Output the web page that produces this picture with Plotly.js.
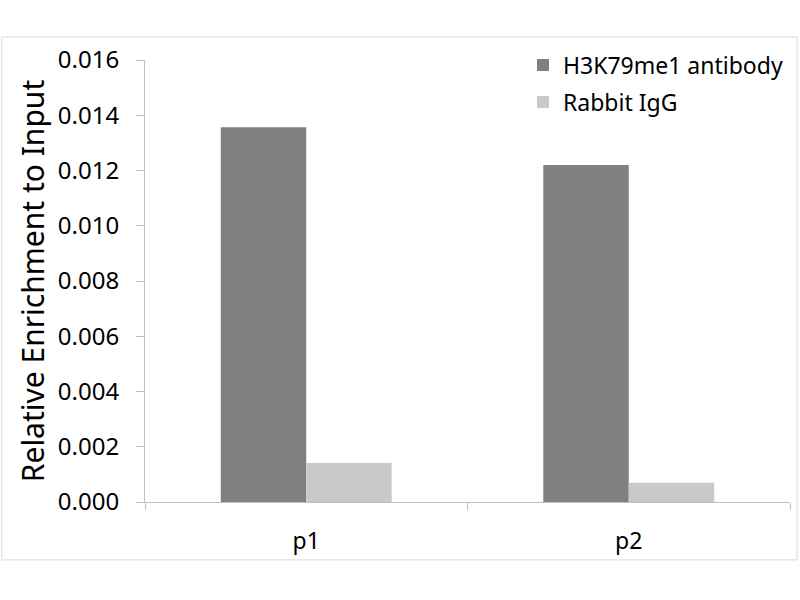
<!DOCTYPE html>
<html>
<head>
<meta charset="utf-8">
<script src="https://cdn.plot.ly/plotly-3.0.1.min.js"></script>
<style>
  body { margin: 0; background: #fff; }
  #chart { width: 800px; height: 600px; }
</style>
</head>
<body>
<div id="chart"></div>
<script>
// values
var sites = ['p1', 'p2']
var antibody = [0.01357, 0.0122]
var igg = [0.00141, 0.0007]

var data = [
  {
    type: 'bar',
    name: 'H3K79me1 antibody',
    legendgroup: 'a',
    x: sites,
    y: antibody,
    marker: {color: '#808080'}
  },
  {
    type: 'bar',
    name: 'Rabbit IgG',
    legendgroup: 'b',
    x: sites,
    y: igg,
    marker: {color: '#c9c9c9'}
  }
]

var layout = {
  width: 800,
  height: 600,
  margin: {l: 145, r: 10, t: 60, b: 98},
  font: {family: 'Noto Sans, Open Sans, sans-serif', color: '#000'},
  barmode: 'group',
  bargap: 0.47,
  bargroupgap: 0,
  showlegend: true,
  legend: {
    x: 0.586, y: 1.037, xanchor: 'left', yanchor: 'top',
    font: {size: 23, color: '#000'},
    traceorder: 'grouped',
    tracegroupgap: 4,
    bgcolor: 'rgba(0,0,0,0)'
  },
  xaxis: {
    type: 'category',
    tickson: 'boundaries',
    ticks: 'outside',
    ticklen: 7,
    tickcolor: '#c0c0c0',
    showline: true,
    linecolor: '#c0c0c0',
    showgrid: false,
    tickfont: {size: 23},
    ticklabelstandoff: 18
  },
  yaxis: {
    range: [0, 0.016],
    dtick: 0.002,
    tickformat: '.3f',
    ticks: 'outside',
    ticklen: 8,
    tickcolor: '#c0c0c0',
    showline: true,
    linecolor: '#c0c0c0',
    showgrid: false,
    zeroline: false,
    tickfont: {size: 24},
    ticklabelstandoff: 12,
    title: {text: 'Relative Enrichment to Input', font: {size: 30}, standoff: 4}
  },
  shapes: [
    {type: 'rect', xref: 'paper', yref: 'paper',
     x0: -0.222, x1: 1.011, y0: -0.131, y1: 1.052,
     line: {color: '#d9d9d9', width: 1}}
  ],
  plot_bgcolor: '#fff',
  paper_bgcolor: '#fff'
}

Plotly.newPlot('chart', data, layout, {displayModeBar: false})
</script>
</body>
</html>
